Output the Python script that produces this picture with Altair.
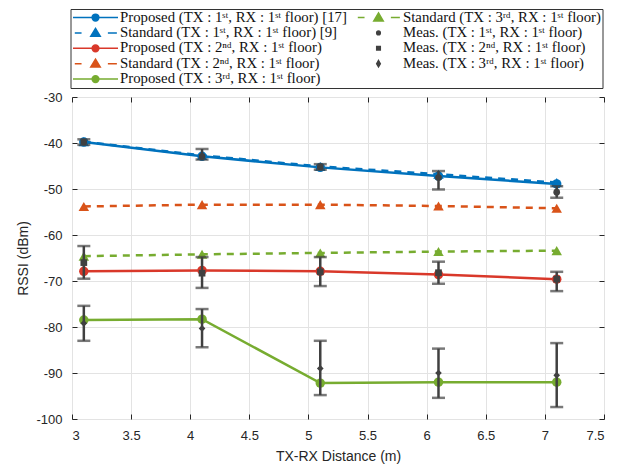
import altair as alt
import pandas as pd

distance = [3.1, 4.1, 5.1, 6.1, 7.1]

prop1 = [-39.8, -42.9, -45.3, -47.2, -48.9]
std1 = [-39.7, -42.7, -45.1, -46.8, -48.6]
prop2 = [-67.9, -67.7, -67.9, -68.6, -69.6]
std2 = [-53.8, -53.4, -53.4, -53.7, -54.2]
prop3 = [-78.5, -78.3, -92.2, -92.0, -92.0]
std3 = [-64.6, -64.2, -63.9, -63.6, -63.4]

meas1 = [-39.8, -42.9, -45.2, -47.5, -50.7]
meas1_lo = [-40.4, -43.6, -45.8, -50.1, -51.9]
meas1_hi = [-39.2, -41.3, -44.6, -46.1, -49.4]
meas2 = [-66.0, -68.3, -68.0, -68.2, -69.6]
meas2_lo = [-69.5, -71.5, -71.1, -70.6, -72.2]
meas2_hi = [-62.4, -64.8, -64.8, -65.8, -68.0]
meas3 = [-79.2, -80.3, -89.0, -90.0, -90.5]
meas3_lo = [-83.0, -84.4, -94.8, -95.4, -97.4]
meas3_hi = [-75.4, -76.1, -83.0, -84.7, -83.5]

S1 = "1\u02e2\u1d57"
S2 = "2\u207f\u1d48"
S3 = "3\u02b3\u1d48"
names = [
    f"Proposed (TX : {S1}, RX : {S1} floor) [17]",
    f"Standard (TX : {S1}, RX : {S1} floor) [9]",
    f"Proposed (TX : {S2}, RX : {S1} floor)",
    f"Standard (TX : {S2}, RX : {S1} floor)",
    f"Proposed (TX : {S3}, RX : {S1} floor)",
    f"Standard (TX : {S3}, RX : {S1} floor)",
    f"Meas. (TX : {S1}, RX : {S1} floor)",
    f"Meas. (TX : {S2}, RX : {S1} floor)",
    f"Meas. (TX : {S3}, RX : {S1} floor)",
]

x_ticks = [3, 3.5, 4, 4.5, 5, 5.5, 6, 6.5, 7, 7.5]
y_ticks = [-100, -90, -80, -70, -60, -50, -40, -30]

BLUE = "#0072BD"
RED = "#D9382A"
ORANGE = "#D95319"
GREEN = "#77AC30"
GREY = "#404040"
AXC = "#262626"

model_series = [
    (names[0], prop1, BLUE, "circle", False),
    (names[2], prop2, RED, "circle", False),
    (names[4], prop3, GREEN, "circle", False),
    (names[1], std1, BLUE, "triangle-up", True),
    (names[3], std2, ORANGE, "triangle-up", True),
    (names[5], std3, GREEN, "triangle-up", True),
]
meas_series = [
    (names[6], meas1, meas1_lo, meas1_hi, "circle"),
    (names[7], meas2, meas2_lo, meas2_hi, "square"),
    (names[8], meas3, meas3_lo, meas3_hi, "diamond"),
]

xs = alt.Scale(domain=[3, 7.5], nice=False, zero=False)
ys = alt.Scale(domain=[-100, -30], nice=False, zero=False)

common = dict(labelFont="Liberation Sans", labelFontSize=13, labelColor=AXC,
              titleFont="Liberation Sans", titleFontSize=14, titleFontWeight="normal",
              titleColor=AXC, domain=False, tickColor=AXC, tickWidth=1,
              tickSize=5, offset=-5)
xaxis = alt.Axis(values=x_ticks, format="~g", title="TX-RX Distance (m)",
                 grid=True, gridColor="#e3e3e3", labelPadding=10, titlePadding=7, **common)
yaxis = alt.Axis(values=y_ticks, labelExpr="'' + datum.value", title="RSSI (dBm)",
                 grid=True, gridColor="#e3e3e3", labelPadding=10, titlePadding=5, **common)
xaxis_top = alt.Axis(values=x_ticks, orient="top", labels=False, title=None, grid=False,
                     **common)
yaxis_right = alt.Axis(values=y_ticks, orient="right", labels=False, title=None, grid=False,
                       **common)


def X(field="x", axis=None):
    return alt.X(f"{field}:Q", scale=xs, axis=axis)


def Y(field="y", axis=None):
    return alt.Y(f"{field}:Q", scale=ys, axis=axis)


layers = []
first = True
for name, vals, color, shape, dashed in model_series:
    df = pd.DataFrame({"x": distance, "y": vals})
    base = alt.Chart(df)
    line_kw = dict(color=color, strokeWidth=2.5)
    if dashed:
        line_kw["strokeDash"] = [7, 6]
    if first:
        layers.append(base.mark_line(**line_kw).encode(x=X(axis=xaxis), y=Y(axis=yaxis)))
        first = False
    else:
        layers.append(base.mark_line(**line_kw).encode(x=X(), y=Y()))
    layers.append(base.mark_point(shape=shape, filled=True, color=color, opacity=1,
                                  size=110 if shape != "circle" else 90)
                  .encode(x=X(), y=Y()))

for name, vals, lo, hi, shape in meas_series:
    df = pd.DataFrame({"x": distance, "y": vals, "lo": lo, "hi": hi})
    base = alt.Chart(df)
    layers.append(base.mark_rule(color=GREY, strokeWidth=2.5)
                  .encode(x=X(), y=Y("lo"), y2="hi:Q"))
    layers.append(base.mark_tick(color=GREY, orient="horizontal", size=13, thickness=2.5)
                  .encode(x=X(), y=Y("lo")))
    layers.append(base.mark_tick(color=GREY, orient="horizontal", size=13, thickness=2.5)
                  .encode(x=X(), y=Y("hi")))
    layers.append(base.mark_point(shape=shape, filled=True, color=GREY, opacity=1, size=45)
                  .encode(x=X(), y=Y()))

# legend
CIRC = "M-1,0L-0.15,0M0.15,0L1,0M0.15,0A0.15,0.15 0 1,1 -0.15,0A0.15,0.15 0 1,1 0.15,0Z"
TRI = "M-0.92,0L-0.62,0M0.55,0L0.95,0M0,-0.2L0.21,0.15L-0.21,0.15Z"
DOT = "M0.08,0A0.08,0.08 0 1,1 -0.08,0A0.08,0.08 0 1,1 0.08,0Z"
SQR = "M-0.08,-0.08L0.08,-0.08L0.08,0.08L-0.08,0.08Z"
DIA = "M0,-0.14L0.08,0L0,0.14L-0.08,0Z"
shape_of = {names[0]: CIRC, names[2]: CIRC, names[4]: CIRC,
            names[1]: TRI, names[3]: TRI, names[5]: TRI,
            names[6]: DOT, names[7]: SQR, names[8]: DIA}
color_of = {names[0]: BLUE, names[1]: BLUE, names[2]: RED, names[3]: ORANGE,
            names[4]: GREEN, names[5]: GREEN, names[6]: GREY, names[7]: GREY, names[8]: GREY}

leg_df = pd.DataFrame({"series": names, "x": [distance[0]] * len(names),
                       "y": [prop1[0]] * len(names)})
legend = alt.Legend(orient="none", legendX=-1.5, legendY=-88, columns=2, title=None,
                    labelFont="Liberation Serif", labelFontSize=14.8, labelColor="#111",
                    symbolSize=2025, symbolStrokeWidth=1.5, symbolOpacity=1, clipHeight=14,
                    rowPadding=0.4, columnPadding=8, padding=1.5, labelOffset=1, labelLimit=0,
                    strokeColor="#333", fillColor="white", cornerRadius=0)
scale_col = alt.Scale(domain=names, range=[color_of[n] for n in names])
scale_shape = alt.Scale(domain=names, range=[shape_of[n] for n in names])
layers.append(alt.Chart(leg_df).mark_point(filled=True, opacity=0, strokeWidth=1.5).encode(
    x=X(axis=xaxis_top), y=Y(axis=yaxis_right),
    fill=alt.Fill("series:N", scale=scale_col, legend=legend, sort=names),
    stroke=alt.Stroke("series:N", scale=scale_col, legend=legend, sort=names),
    shape=alt.Shape("series:N", scale=scale_shape, legend=legend, sort=names),
))

chart = alt.layer(*layers).resolve_axis(x="independent", y="independent").properties(
    width=532, height=322,
    padding={"top": 0, "left": 8, "right": 5, "bottom": 5},
).configure_view(
    stroke=AXC, strokeWidth=1
).configure(background="white")

chart.save("out.html", embed_options={"renderer": "svg", "actions": False})
